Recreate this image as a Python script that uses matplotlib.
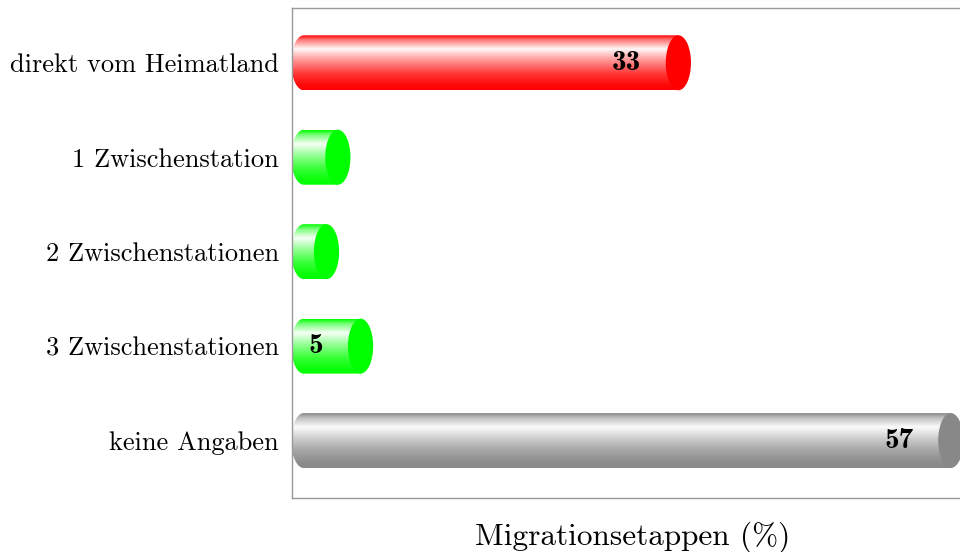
import numpy as np
import matplotlib
matplotlib.use("Agg")
import matplotlib.pyplot as plt
from matplotlib.patches import Ellipse, PathPatch
from matplotlib.path import Path
from matplotlib.colors import to_rgb

categories = ["direkt vom Heimatland", "1 Zwischenstation", "2 Zwischenstationen",
              "3 Zwischenstationen", "keine Angaben"]
values = [33, 3, 2, 5, 57]
colors = ["#ff0000", "#00ff00", "#00ff00", "#00ff00", "#888888"]
xlabel = "Migrationsetappen (%)"

plt.rcParams["axes.formatter.use_mathtext"] = True
plt.rcParams["font.family"] = ["cmr10", "DejaVu Serif"]

W, H = 960, 552
fig = plt.figure(figsize=(W / 100, H / 100), dpi=100)
ax_left, ax_top, ax_bot, ax_w = 292, 8, 497.7, 681.5
ax = fig.add_axes([ax_left / W, 1 - ax_bot / H, ax_w / W, (ax_bot - ax_top) / H])

xmin, xmax = -1.04, 59.0
ymin, ymax = -0.58, 4.605
px_per_x = ax_w / (xmax - xmin)
rx = 12.6 / px_per_x          # half-width of the cylinder ends (data units)
bh = 0.582                    # bar thickness (data units)

# vertical blend profile (0 = top of bar, 1 = bottom)
stops_t = [0.0, 0.08, 0.25, 0.45, 0.7, 0.9, 1.0]
stops_w = [0.0, 0.45, 0.97, 0.6, 0.22, 0.04, 0.0]
tt = np.linspace(0, 1, 200)
ww = np.interp(tt, stops_t, stops_w)

for i, (v, c) in enumerate(zip(values, colors)):
    y = i
    x0, x1 = 0.0, v
    base = np.array(to_rgb(c))
    grad = base[None, :] * (1 - ww[:, None]) + ww[:, None] * np.ones(3)[None, :]
    img = grad[:, None, :]
    # body outline: rectangle with left half-ellipse
    th = np.linspace(np.pi / 2, 3 * np.pi / 2, 60)
    ex = x0 + rx * np.cos(th)
    ey = y - (bh / 2) * np.sin(th)
    verts = [(x1, y - bh / 2)] + list(zip(ex, ey)) + [(x1, y + bh / 2), (x1, y - bh / 2)]
    codes = [Path.MOVETO] + [Path.LINETO] * (len(verts) - 2) + [Path.CLOSEPOLY]
    path = Path(verts, codes)
    patch = PathPatch(path, facecolor="none", edgecolor="none")
    ax.add_patch(patch)
    im = ax.imshow(img, extent=(x0 - rx, x1, y + bh / 2, y - bh / 2), origin="upper",
                   aspect="auto", interpolation="bilinear", zorder=2)
    im.set_clip_path(patch)
    ax.add_patch(Ellipse((x1, y), 2 * rx, bh, facecolor=c, edgecolor="none", zorder=3))
    if v >= 5:
        ax.text(x1 - 37.0 / px_per_x, y, f"{v}", ha="right", va="center",
                fontfamily="cmb10", fontsize=21, color="black", zorder=4)

ax.set_xlim(xmin, xmax)
ax.set_ylim(ymax, ymin)
ax.set_xticks([])
ax.set_yticks(range(len(categories)))
ax.set_yticklabels(categories, fontsize=19)
ax.tick_params(axis="y", length=0, pad=9.5)
for s in ax.spines.values():
    s.set_color("#999999")
    s.set_linewidth(1.0)
ax.set_xlabel(xlabel, fontsize=22.5, labelpad=17)

fig.savefig("out.png", dpi=100)
